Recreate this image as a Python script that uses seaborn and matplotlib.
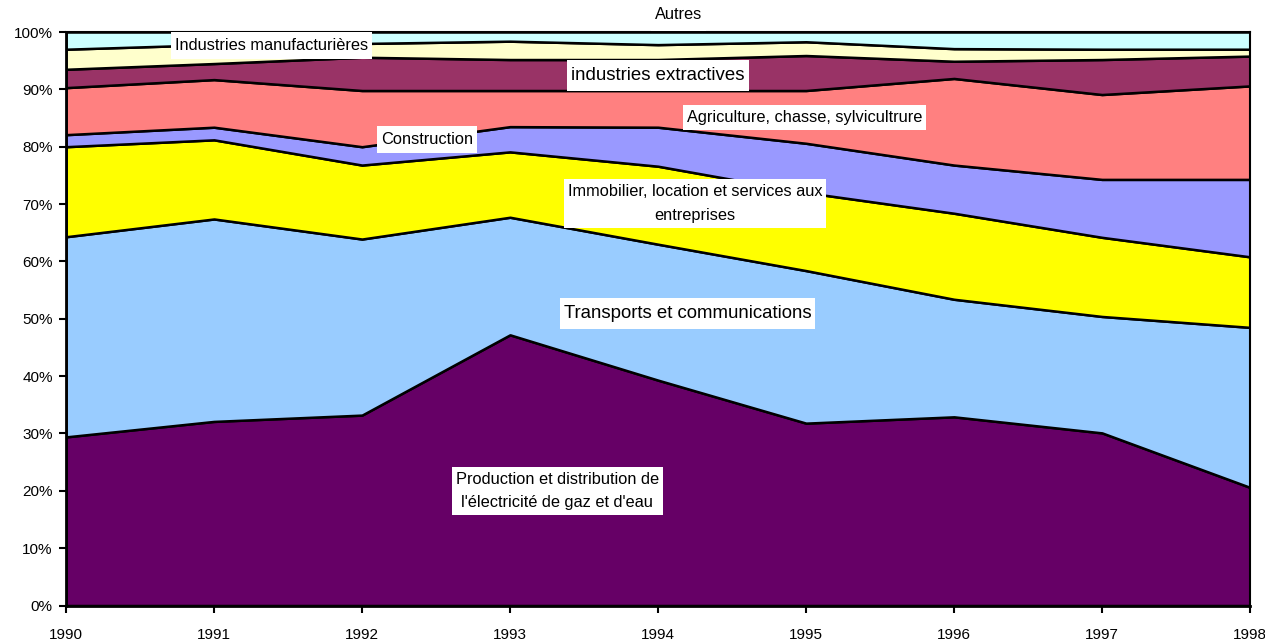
import matplotlib
matplotlib.use("Agg")
import matplotlib.pyplot as plt
import seaborn as sns
import numpy as np
import pandas as pd
from matplotlib.ticker import FuncFormatter, MultipleLocator
from matplotlib.path import Path

years = [1990, 1991, 1992, 1993, 1994, 1995, 1996, 1997, 1998]

electricite = [29.4, 32.1, 33.2, 47.2, 39.3, 31.8, 32.9, 30.1, 20.6]
transports = [34.9, 35.3, 30.7, 20.5, 23.7, 26.6, 20.5, 20.3, 27.9]
immobilier = [15.7, 13.8, 12.9, 11.4, 13.6, 13.6, 15.0, 13.8, 12.3]
construction = [2.1, 2.2, 3.2, 4.4, 6.8, 8.6, 8.4, 10.1, 13.5]
agriculture = [8.2, 8.3, 9.8, 6.3, 6.4, 9.2, 15.1, 14.8, 16.3]
extractives = [3.2, 2.8, 5.8, 5.4, 5.4, 6.1, 3.0, 6.1, 5.2]
manufacturieres = [3.5, 3.3, 2.4, 3.2, 2.6, 2.4, 2.2, 1.8, 1.2]
autres = [3.0, 2.2, 2.0, 1.6, 2.2, 1.7, 2.9, 3.0, 3.0]

series_labels = [
    "Production et distribution de\nl'électricité de gaz et d'eau",
    "Transports et communications",
    "Immobilier, location et services aux\nentreprises",
    "Construction",
    "Agriculture, chasse, sylvicultrure",
    "industries extractives",
    "Industries manufacturières",
    "Autres",
]
colors = ["#660066", "#99CCFF", "#FFFF00", "#9999FF", "#FF8080", "#993366", "#FFFFCC", "#CCFFFF"]

df = pd.DataFrame({
    "year": years,
    "elec": electricite, "transp": transports, "immob": immobilier,
    "constr": construction, "agri": agriculture, "extr": extractives,
    "manuf": manufacturieres, "autres": autres,
}).set_index("year")
cols = ["elec", "transp", "immob", "constr", "agri", "extr", "manuf", "autres"]
pct = df[cols].div(df[cols].sum(axis=1), axis=0) * 100

sns.set_style("white")
plt.rcParams["font.family"] = ["Liberation Sans", "DejaVu Sans"]

fig = plt.figure(figsize=(12.65, 6.41), dpi=100)
ax = fig.add_axes([66 / 1265, 1 - 605.5 / 641, (1250 - 66) / 1265, (605.5 - 32) / 641])

ax.stackplot(pct.index, [pct[c].values for c in cols], colors=colors,
             edgecolor="black", linewidth=1.8, zorder=2)

ax.set_xlim(1990, 1998)
ax.set_ylim(0, 100)
ax.xaxis.set_major_locator(MultipleLocator(1))
ax.yaxis.set_major_locator(MultipleLocator(10))
ax.yaxis.set_major_formatter(FuncFormatter(lambda v, p: f"{int(round(v))}%"))
ax.tick_params(axis="both", which="major", direction="out", length=5, width=1.5,
               color="black", labelsize=11, labelcolor="black", bottom=True, left=True)
ax.tick_params(axis="x", pad=11)
ax.tick_params(axis="y", pad=4.5)
for s in ["left", "bottom"]:
    ax.spines[s].set_color("black")
    ax.spines[s].set_linewidth(2)
for s in ["top", "right"]:
    ax.spines[s].set_color("black")
    ax.spines[s].set_linewidth(1.5)


def make_box(padx, pady):
    def box(x0, y0, width, height, mutation_size):
        xa, ya = x0 - padx, y0 - pady
        xb, yb = x0 + width + padx, y0 + height + pady
        return Path([(xa, ya), (xb, ya), (xb, yb), (xa, yb), (xa, ya)], closed=True)
    return box


annots = [
    (1994.14, 103.0, 7, 11.8, 4, 9),
    (1991.39, 97.6, 6, 11.8, 4, 6),
    (1994.00, 92.4, 5, 13.4, 4, 7),
    (1992.44, 81.2, 3, 11.8, 4, 6),
    (1994.99, 85.1, 4, 11.8, 4, 5),
    (1994.25, 70.1, 2, 11.8, 4, 5),
    (1994.20, 51.0, 1, 13.4, 4, 7),
    (1993.32, 20.0, 0, 11.8, 4, 5),
]
for x, y, i, fs, px, py in annots:
    ax.text(x, y, series_labels[i], ha="center", va="center", fontsize=fs,
            color="black", linespacing=1.7, zorder=5, clip_on=False,
            bbox=dict(boxstyle=make_box(px, py), facecolor="white", edgecolor="none"))

fig.savefig("out.png", dpi=100)
